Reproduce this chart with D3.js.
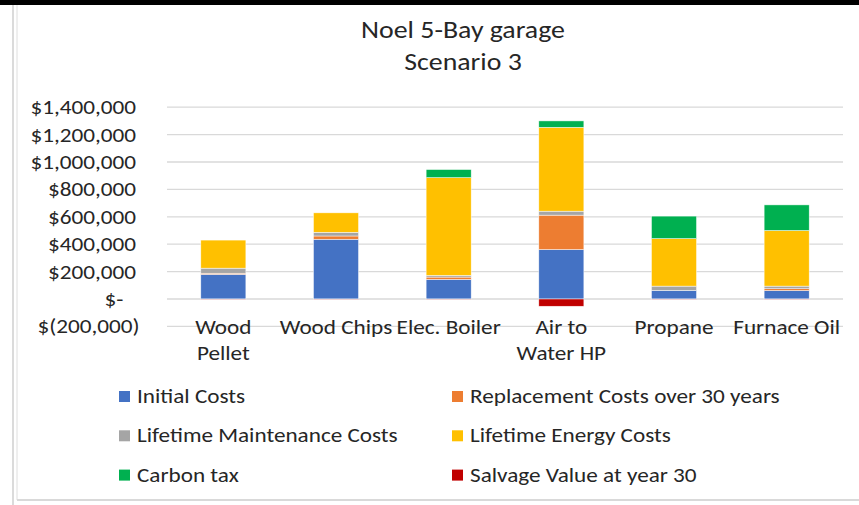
<!DOCTYPE html>
<html>
<head>
<meta charset="utf-8">
<script src="https://cdn.jsdelivr.net/npm/d3@7"></script>
<style>
  html, body { margin: 0; padding: 0; background: #fff; }
  svg { display: block; }
  text { font-family: Carlito, Lato, "Open Sans", sans-serif; fill: #262626; }
</style>
</head>
<body>
<svg id="chart" width="859" height="505"></svg>
<script>
// Life-cycle cost components per heating system (CAD)
const categories = ["Wood Pellet", "Wood Chips", "Elec. Boiler", "Air to Water HP", "Propane", "Furnace Oil"];
const categoryLines = [["Wood", "Pellet"], ["Wood Chips"], ["Elec. Boiler"], ["Air to", "Water HP"], ["Propane"], ["Furnace Oil"]];

const seriesNames = [
  "Initial Costs",
  "Replacement Costs over 30 years",
  "Lifetime Maintenance Costs",
  "Lifetime Energy Costs",
  "Carbon tax",
  "Salvage Value at year 30"
];
const seriesColors = ["#4472C4", "#ED7D31", "#A5A5A5", "#FFC000", "#00B050", "#C00000"];

const initialCosts     = [180000, 436000, 143000, 361000,  62000,  62000];
const replacementCosts = [  8000,  24000,  17000, 251000,      0,  13000];
const maintenanceCosts = [ 37000,  27000,  12000,  29000,  32000,  19000];
const energyCosts      = [205000, 142000, 714000, 612000, 347000, 406000];
const carbonTax        = [     0,      0,  59000,  47000, 164000, 187000];
const salvageValue     = [ -2000,  -2000,  -2000, -53000,  -2000,  -2000];

const yTicks = [-200000, 0, 200000, 400000, 600000, 800000, 1000000, 1200000, 1400000];

const seriesValues = [initialCosts, replacementCosts, maintenanceCosts, energyCosts, carbonTax, salvageValue];
const rows = categories.map((c, i) => {
  const r = { category: c };
  seriesNames.forEach((s, k) => { r[s] = seriesValues[k][i]; });
  return r;
});

const svg = d3.select("#chart");
const W = 859, H = 505;
const SX = 1.16; // horizontal widening of the chart's lettering

// place a text at (px, py) with the widened glyphs
function placeText(sel, px, py) {
  return sel.attr("x", 0).attr("y", 0)
    .attr("transform", `translate(${px},${py}) scale(${SX},1)`);
}

// frame: dark strip on top, light borders of the chart object
svg.append("rect").attr("x", 0).attr("y", 0).attr("width", W).attr("height", 5).attr("fill", "#000");
svg.append("line").attr("x1", 13).attr("x2", 13).attr("y1", 5).attr("y2", H)
  .attr("stroke", "#cfcfcf").attr("stroke-width", 1.5);
svg.append("line").attr("x1", 17).attr("x2", 17).attr("y1", 5).attr("y2", 500)
  .attr("stroke", "#dedede").attr("stroke-width", 1);
svg.append("line").attr("x1", 17).attr("x2", W).attr("y1", 500).attr("y2", 500)
  .attr("stroke", "#d9d9d9").attr("stroke-width", 2);

// title
placeText(svg.append("text").attr("text-anchor", "middle").style("font-size", "24px"), 463, 38)
  .text("Noel 5-Bay garage");
placeText(svg.append("text").attr("text-anchor", "middle").style("font-size", "24px"), 463, 70)
  .text("Scenario 3");

// scales
const x = d3.scaleBand().domain(categories).range([167, 843]).paddingInner(0.6).paddingOuter(0.3);
const y = d3.scaleLinear().domain([-200000, 1400000]).range([326.4, 107.2]);

// gridlines
const grid = svg.append("g");
grid.selectAll("line").data(yTicks).join("line")
  .attr("x1", 167).attr("x2", 843)
  .attr("y1", d => y(d)).attr("y2", d => y(d))
  .attr("stroke", "#d9d9d9").attr("stroke-width", 1.3);

// y axis labels in accounting style
const fmt = d3.format(",");
function acct(v) {
  if (v === 0) return "$-";
  if (v < 0) return "$(" + fmt(-v) + ")";
  return "$" + fmt(v);
}
const yAxis = d3.axisLeft(y).tickValues(yTicks).tickFormat(acct).tickSize(0).tickPadding(0);
const yg = svg.append("g").attr("transform", "translate(136,0)").call(yAxis);
yg.select(".domain").remove();
yg.selectAll("text")
  .style("font-size", "20px").attr("fill", "#262626").attr("font-family", null)
  .attr("dx", d => d === 0 ? -11 : (d < 0 ? 3 : 0))
  .attr("transform", `scale(${SX},1)`);

// stacked bars
const stack = d3.stack().keys(seriesNames).offset(d3.stackOffsetDiverging);
const stacked = stack(rows);
const bars = svg.append("g");
stacked.forEach((layer, k) => {
  bars.append("g").attr("fill", seriesColors[k])
    .selectAll("rect").data(layer).join("rect")
    .attr("x", d => x(d.data.category))
    .attr("width", x.bandwidth())
    .attr("y", d => y(Math.max(d[0], d[1])))
    .attr("height", d => Math.abs(y(d[0]) - y(d[1])))
    .attr("stroke", "#fff").attr("stroke-width", 0.6).attr("stroke-opacity", 0.8);
});

// category labels
const xl = svg.append("g");
categories.forEach((c, i) => {
  categoryLines[i].forEach((ln, j) => {
    placeText(xl.append("text").attr("text-anchor", "middle").style("font-size", "20px"),
      x(c) + x.bandwidth() / 2, 334 + j * 26).text(ln);
  });
});

// legend, two columns
const legend = svg.append("g");
seriesNames.forEach((s, k) => {
  const col = k % 2, row = Math.floor(k / 2);
  const lx = col === 0 ? 119 : 452;
  const ly = 391 + row * 39.3;
  legend.append("rect").attr("x", lx).attr("y", ly).attr("width", 11).attr("height", 11)
    .attr("fill", seriesColors[k]);
  placeText(legend.append("text").style("font-size", "20px"), lx + 18, ly + 12).text(s);
});
</script>
</body>
</html>
